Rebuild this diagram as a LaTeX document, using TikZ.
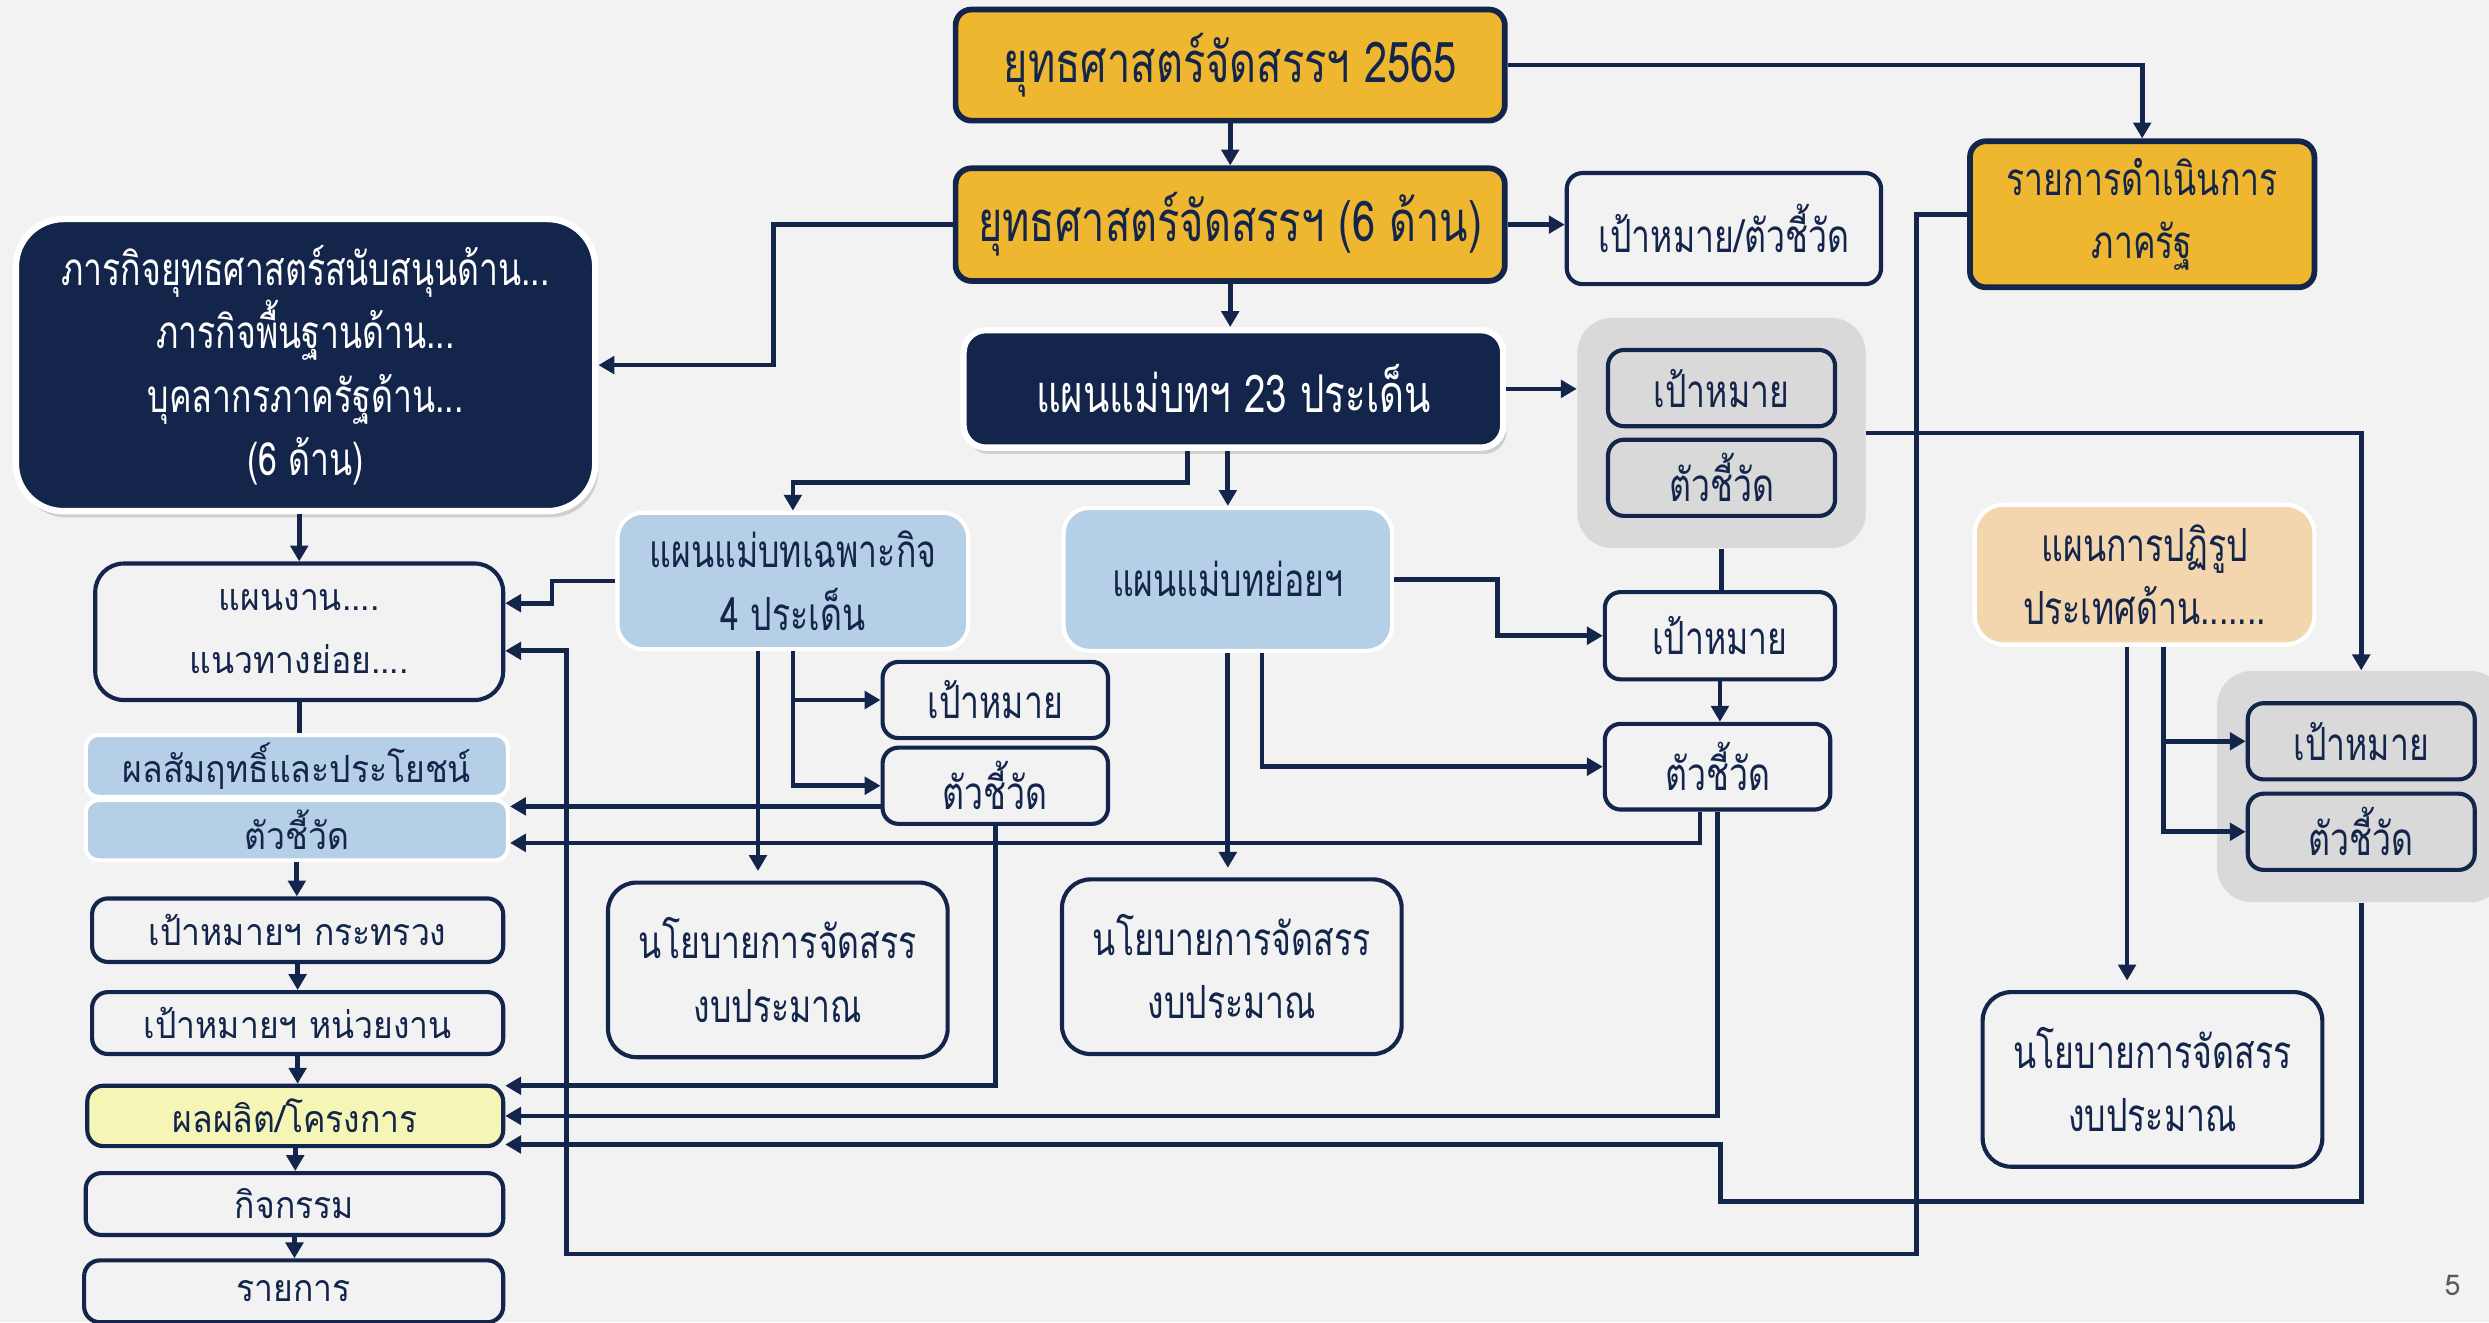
\documentclass[tikz,border=0pt]{standalone}
\usepackage{fontspec}
\setmainfont[Script=Thai]{Loma}
\newfontfamily\thainarrow[Script=Thai,FakeStretch=0.74]{Loma}
\newfontfamily\thaiwide[Script=Thai,FakeStretch=0.9]{Loma}
\usetikzlibrary{arrows.meta, positioning, fit, backgrounds, shadows}
\definecolor{navy}{HTML}{13254A}
\definecolor{gold}{HTML}{EFB730}
\definecolor{lblue}{HTML}{B4CFE6}
\definecolor{peach}{HTML}{F3D6AE}
\definecolor{pyellow}{HTML}{F5F5B5}
\definecolor{lgray}{HTML}{D9D9D9}
\definecolor{paper}{HTML}{F2F2F2}
\newcommand{\fbig}{\fontsize{17.7}{24}\selectfont\thainarrow}
\newcommand{\fmaster}{\fontsize{16.4}{24}\selectfont\thainarrow}
\newcommand{\fmed}{\fontsize{14.4}{20}\selectfont\thainarrow}
\newcommand{\fleft}{\fontsize{11.8}{20}\selectfont\thaiwide}

\begin{document}
\begin{tikzpicture}[x=0.5pt,y=-0.5pt,>={Triangle[length=5pt,width=5.5pt]},
    conn/.style={draw=navy,line width=1.5pt},
    box/.style={rounded corners=5pt,align=center,inner sep=0pt,text=navy,font=\fmed},
    goldbox/.style={box,draw=navy,line width=1.8pt,fill=gold,font=\fbig},
    darkbox/.style={box,draw=white,line width=2pt,fill=navy,text=white,
      drop shadow={opacity=0.3,shadow xshift=1pt,shadow yshift=-2pt}},
    plainbox/.style={box,draw=navy,line width=1.3pt,fill=paper},
    bluebox/.style={box,draw=white,line width=1.3pt,fill=lblue,rounded corners=8pt},
    leftbox/.style={plainbox,font=\fleft,minimum height=19.5pt},
    graybox/.style={plainbox,fill=lgray,minimum width=71.5pt,minimum height=24pt},
    budget/.style={plainbox,rounded corners=9pt,minimum width=107pt,minimum height=55pt},
    group/.style={fill=lgray,rounded corners=11pt,inner xsep=9pt,inner ysep=9.5pt}]
  \path[use as bounding box] (0,0) rectangle (1568,833);

  % top row
  \node[goldbox,minimum width=173pt,minimum height=35pt] (strat65) at (775,41) {ยุทธศาสตร์จัดสรรฯ 2565};
  \node[goldbox,minimum width=173pt,minimum height=35.5pt] (strat6) at (775,141.5) {ยุทธศาสตร์จัดสรรฯ (6 ด้าน)};
  \node[plainbox,minimum width=99pt,minimum height=35pt] (stratgoal) at (1086,144) {เป้าหมาย/ตัวชี้วัด};
  \node[goldbox,font=\fmed,minimum width=108.5pt,minimum height=46pt] (govlist) at (1349.5,135) {รายการดำเนินการ\\ภาครัฐ};
  \node[darkbox,rounded corners=15pt,minimum width=182.5pt,minimum height=92pt] (mission) at (192.5,230)
    {ภารกิจยุทธศาสตร์สนับสนุนด้าน...\\ภารกิจพื้นฐานด้าน...\\บุคลากรภาครัฐด้าน...\\(6 ด้าน)};
  \node[darkbox,rounded corners=7pt,font=\fmaster,minimum width=170pt,minimum height=37pt] (master23) at (777,245) {แผนแม่บทฯ 23 ประเด็น};
  \node[graybox] (m23goal) at (1084.5,244.5) {เป้าหมาย};
  \node[graybox] (m23ind) at (1084.5,301) {ตัวชี้วัด};

  % master plans
  \node[bluebox,minimum width=110.5pt,minimum height=43pt] (special) at (499.5,366) {แผนแม่บทเฉพาะกิจ\\4 ประเด็น};
  \node[bluebox,minimum width=103.5pt,minimum height=45pt] (subplan) at (773.5,365) {แผนแม่บทย่อยฯ};
  \node[plainbox,minimum width=71pt,minimum height=24pt] (spgoal) at (627,441) {เป้าหมาย};
  \node[plainbox,minimum width=71pt,minimum height=24pt] (spind) at (627,495) {ตัวชี้วัด};
  \node[budget] (spbudget) at (490,611) {นโยบายการจัดสรร\\งบประมาณ};
  \node[budget] (subbudget) at (776,609) {นโยบายการจัดสรร\\งบประมาณ};
  \node[plainbox,minimum width=72.5pt,minimum height=27.5pt] (subgoal) at (1083.5,400.5) {เป้าหมาย};
  \node[plainbox,minimum width=71pt,minimum height=27pt] (subind) at (1082,483) {ตัวชี้วัด};

  % reform
  \node[box,draw=white,line width=1.3pt,fill=peach,rounded corners=9pt,minimum width=107pt,minimum height=44pt] (reform) at (1351,362) {แผนการปฏิรูป\\ประเทศด้าน.......};
  \node[graybox] (rfgoal) at (1487.5,467) {เป้าหมาย};
  \node[graybox] (rfind) at (1487.5,524) {ตัวชี้วัด};
  \node[budget] (rfbudget) at (1356,680) {นโยบายการจัดสรร\\งบประมาณ};

  % left column
  \node[leftbox,rounded corners=9pt,minimum width=128.5pt,minimum height=43pt] (workplan) at (188.5,398) {แผนงาน....\\แนวทางย่อย....};
  \node[bluebox,font=\fleft,rounded corners=4pt,minimum width=133pt,minimum height=19.5pt] (outcome) at (187,482.5) {ผลสัมฤทธิ์และประโยชน์};
  \node[bluebox,font=\fleft,rounded corners=4pt,minimum width=133pt,minimum height=19pt] (outind) at (187,523) {ตัวชี้วัด};
  \node[leftbox,minimum width=129.5pt,minimum height=20pt] (minigoal) at (187.5,586) {เป้าหมายฯ กระทรวง};
  \node[leftbox,minimum width=129.5pt] (unitgoal) at (187.5,644.5) {เป้าหมายฯ หน่วยงาน};
  \node[leftbox,fill=pyellow,minimum width=131pt,minimum height=19pt] (output) at (186,703) {ผลผลิต/โครงการ};
  \node[leftbox,minimum width=131.5pt] (activity) at (185.5,758.5) {กิจกรรม};
  \node[leftbox,minimum width=132pt] (itemlist) at (185,813.5) {รายการ};

  \node[text=black!65,font=\fontsize{9}{10}\selectfont] (pagenum) at (1545,810) {5};

  \begin{scope}[on background layer]
    \fill[paper] (0,0) rectangle (1568,833);
    \node[group,fit=(m23goal) (m23ind)] (grp1) {};
    \node[group,fit=(rfgoal) (rfind)] (grp2) {};
  \end{scope}

  % connectors
  \draw[conn,->] (strat65.south) -- (strat6.north);
  \draw[conn,->] (strat65.east) -| (govlist.north);
  \draw[conn,->] (strat6.east) -- (stratgoal.west |- strat6.east);
  \draw[conn,->] (strat6.south) -- (strat6.south |- master23.north);
  \draw[conn,->] (strat6.west) -- ++(-113,0) |- (mission.east);
  \draw[conn,->] (master23.east) -- (grp1.west |- master23.east);
  \draw[conn,->] ([xshift=-14.5pt]master23.south) -- ++(0,20) -| (special.north);
  \draw[conn,->] (master23.south -| subplan.north) -- (subplan.north);
  \draw[conn,->] (mission.south -| workplan.north) -- (workplan.north);
  \draw[conn,->] (special.west) -- ++(-40,0) |- ([yshift=9pt]workplan.east);
  \draw[conn,->] (govlist.west) -- ++(-32,0) |- (357,790) |- ([yshift=-6pt]workplan.east);
  \draw[conn] (workplan.south) -- (workplan.south |- outcome.north);
  \foreach \a/\b in {outind/minigoal, minigoal/unitgoal, unitgoal/output, output/activity, activity/itemlist}
    \draw[conn,->] (\a.south) -- (\a.south |- \b.north);
  \draw[conn,->,shorten >=3pt] ([xshift=-11pt]special.south) -- ([xshift=-11pt]special.south |- spbudget.north);
  \draw[conn,->] (special.south) |- (spgoal.west);
  \draw[conn,->] (special.south) |- (spind.west);
  \draw[conn,->] ([yshift=-6.5pt]spind.west) -- ([yshift=-6.5pt]spind.west -| outind.east);
  \draw[conn,->] ([xshift=-5.5pt]subind.south) |- ([yshift=-4pt]outind.east);
  \draw[conn,->] (spind.south) |- ([yshift=9.5pt]output.east);
  \draw[conn,->] (subind.south) |- (output.east);
  \draw[conn,->] (grp2.south) |- (1084,757) |- ([yshift=-9pt]output.east);
  \draw[conn,->] (subplan.east) -- ++(65,0) |- (subgoal.west);
  \draw[conn,->] ([xshift=10.75pt]subplan.south) |- (subind.west);
  \draw[conn,->,shorten >=3pt] (subplan.south) -- (subplan.south |- subbudget.north);
  \draw[conn] (grp1.south) -- (grp1.south |- subgoal.north);
  \draw[conn,->] (subgoal.south) -- (subgoal.south |- subind.north);
  \draw[conn,->] (grp1.east) -| (grp2.north);
  \draw[conn,->,shorten >=3pt] ([xshift=-5.5pt]reform.south) -- ([xshift=-5.5pt]reform.south |- rfbudget.north);
  \draw[conn,->] ([xshift=6pt]reform.south) |- (rfgoal.west);
  \draw[conn,->] ([xshift=6pt]reform.south) |- (rfind.west);
\end{tikzpicture}
\end{document}
